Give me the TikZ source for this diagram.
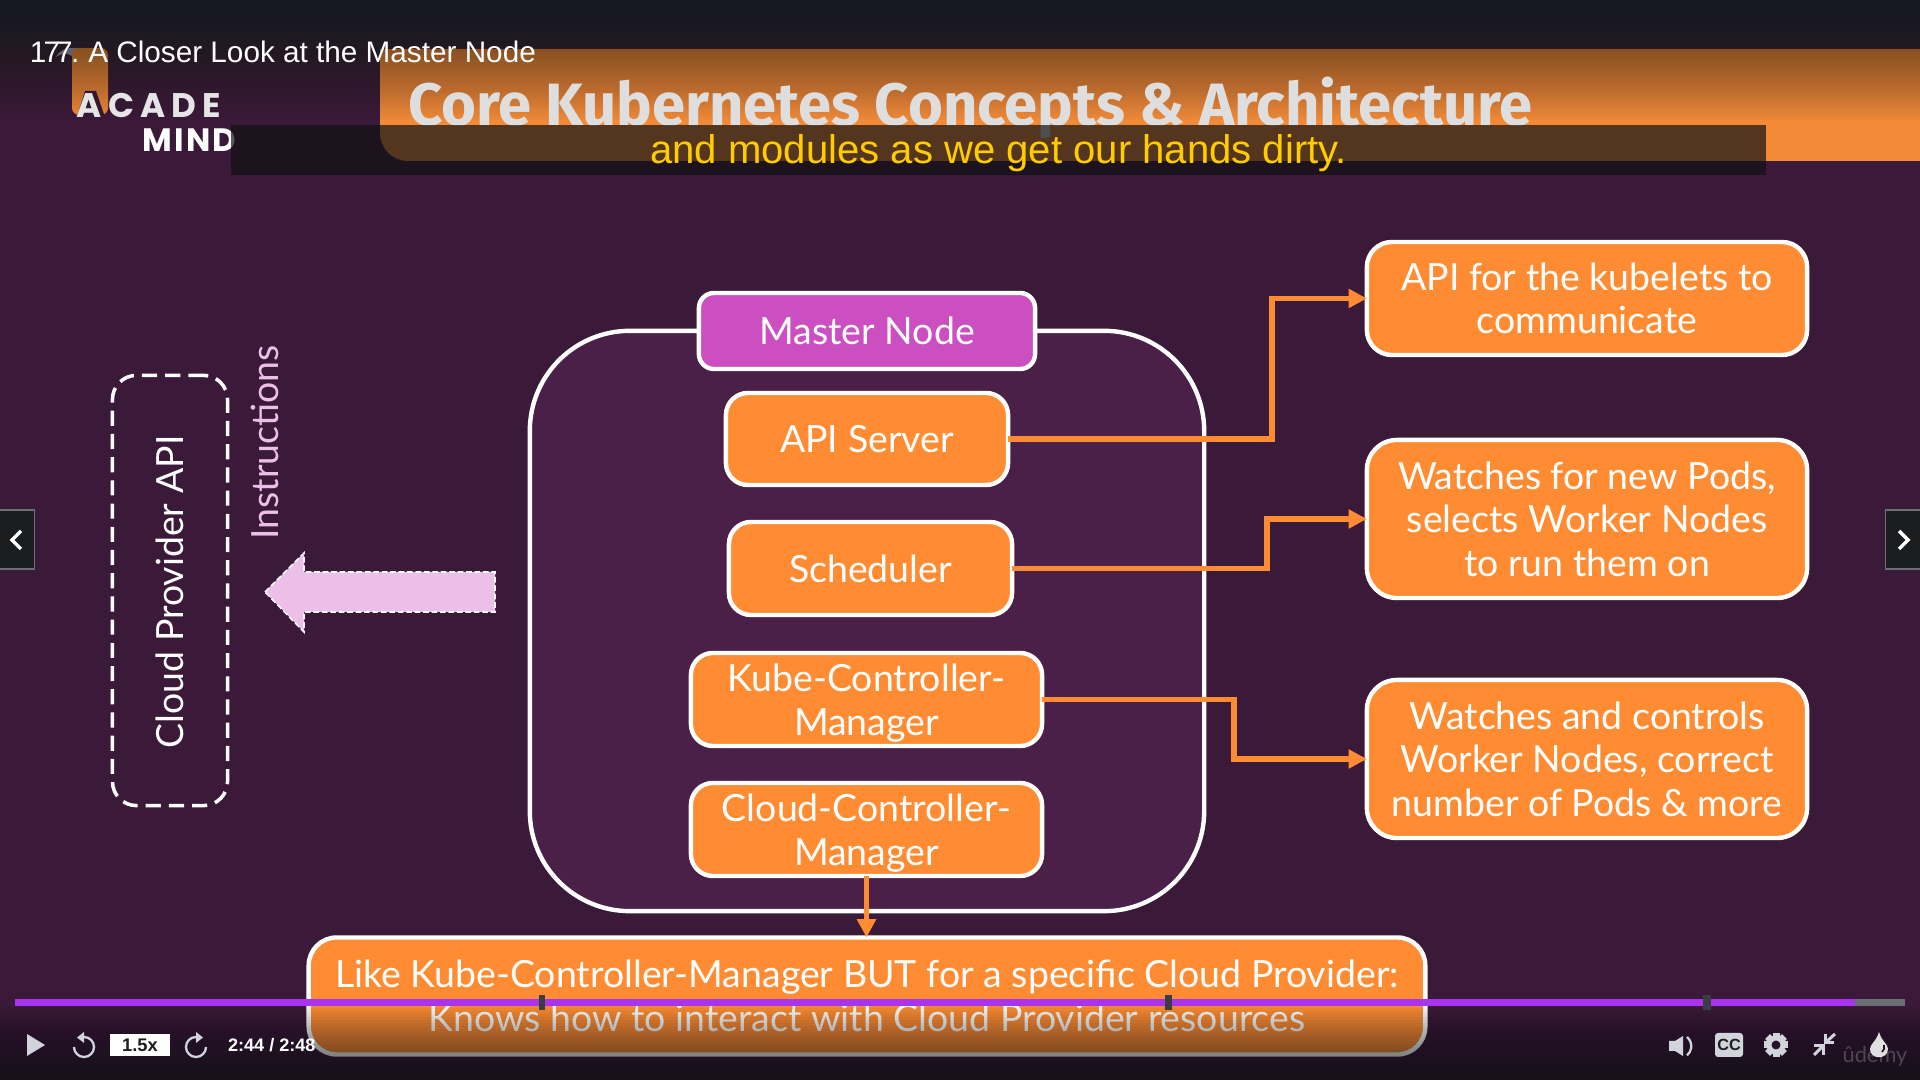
\documentclass[tikz,border=0pt]{standalone}
\usepackage{fontspec}
\usetikzlibrary{arrows.meta,shapes.geometric}
\setmainfont{Lato}
\newfontfamily\titlefont{Fira Sans}
\newfontfamily\playerfont{Liberation Sans}
\newfontfamily\logofontA[LetterSpace=18]{Poppins}
\newfontfamily\logofontB[LetterSpace=6]{Poppins}
\definecolor{bgpurple}{HTML}{3A1A38}
\definecolor{boxpurple}{HTML}{4A2049}
\definecolor{korange}{HTML}{FF8C33}
\definecolor{kbanner}{HTML}{F28A38}
\definecolor{kmagenta}{HTML}{CC4FC2}
\definecolor{kpink}{HTML}{ECBFE9}
\definecolor{shadetop}{HTML}{161822}
\definecolor{shadebot}{HTML}{0C1014}
\definecolor{bandcol}{HTML}{111113}
\definecolor{subyellow}{HTML}{FFCC00}
\definecolor{barpurple}{HTML}{A933EE}
\definecolor{bargrey}{HTML}{6B6F73}
\definecolor{markcol}{HTML}{3A3D42}
\definecolor{icon}{HTML}{D1D5DB}
\definecolor{navfill}{HTML}{1C1D1F}
\definecolor{navline}{HTML}{6A6F73}
\definecolor{darktext}{HTML}{1C1D1F}
\definecolor{titlecol}{HTML}{DEDEDE}
\tikzset{
  bodytext/.style={text=white,font=\fontsize{10.65pt}{12.4pt}\selectfont,align=center,inner sep=0pt,outer sep=0pt},
  obox/.style={bodytext,draw=white,line width=1.25pt,fill=korange,rounded corners=0.22cm},
  conn/.style={draw=korange,line width=1.55pt,-{Triangle[length=5.2pt,width=5.2pt]}},
  plain/.style={inner sep=0pt,outer sep=0pt},
  marker/.style={fill=markcol},
  nav/.style={fill=navfill,draw=navline,line width=0.3pt},
  chevron/.style={draw=white,line width=1pt},
  ring/.style={draw=icon,line width=0.65pt},
}
\newcommand{\topstrut}{\rule{0pt}{10pt}}
\begin{document}
\begin{tikzpicture}[x=0.01cm,y=-0.01cm]
\useasboundingbox (0,0) rectangle (1920,1080);
\fill[bgpurple] (0,0) rectangle (1920,1080);
% banner
\fill[kbanner,rounded corners=0.28cm] (380,49) -- (1950,49) -- (1950,161) -- (380,161) -- cycle;
\fill[kbanner] (380,49) rectangle (420,90);
% logo
\fill[gray!70] (56,57) .. controls (60,50) and (66,48) .. (72,48) -- (80,48) -- (80,56) -- (72,56) .. controls (66,52) and (60,54) .. (56,57) -- cycle;
\fill[kbanner,rounded corners=0.07cm] (72,115) -- (72,48) -- (108,48) -- (108,115) -- cycle;
\fill[bgpurple] (76,120) -- (85,91) -- (96,91) -- (106,120) -- cycle;
% master node container
\node[draw=white,line width=1.25pt,fill=boxpurple,rounded corners=1cm,minimum width=6.74cm,minimum height=5.8cm,plain] (main) at (867,621) {};
\node[obox,fill=kmagenta,rounded corners=0.15cm,minimum width=3.36cm,minimum height=0.76cm] (master) at (867,331) {Master Node};
\node[obox,minimum width=2.82cm,minimum height=0.92cm] (api) at (867,439) {API Server};
\node[obox,minimum width=2.83cm,minimum height=0.93cm] (sched) at (870.5,568.5) {Scheduler};
\node[obox,minimum width=3.51cm,minimum height=0.93cm] (kcm) at (866.5,699.5) {\topstrut Kube-Controller-\\Manager};
\node[obox,minimum width=3.51cm,minimum height=0.93cm] (ccm) at (866.5,829.5) {\topstrut Cloud-Controller-\\Manager};
% right boxes
\node[obox,rounded corners=0.25cm,minimum width=4.4cm,minimum height=1.13cm] (r1) at (1587,298.5) {API for the kubelets to\\communicate};
\node[obox,rounded corners=0.3cm,minimum width=4.4cm,minimum height=1.58cm] (r2) at (1587,519) {Watches for new Pods,\\selects Worker Nodes\\to run them on};
\node[obox,rounded corners=0.3cm,minimum width=4.4cm,minimum height=1.58cm] (r3) at (1587,759) {Watches and controls\\Worker Nodes, correct\\number of Pods \& more};
% bottom box
\node[obox,rounded corners=0.28cm,minimum width=11.16cm,minimum height=1.17cm] (bot) at (867,996) {Like Kube-Controller-Manager BUT for a specific Cloud Provider:\\Knows how to interact with Cloud Provider resources};
% connectors
\coordinate (c1) at (1272,439);
\coordinate (c2) at (1267,568.5);
\coordinate (c3) at (1234,699.5);
\draw[conn] (api.east) -- (c1) |- (r1.west);
\draw[conn] (sched.east) -- (c2) |- (r2.west);
\draw[conn] (kcm.east) -- (c3) |- (r3.west);
\draw[conn] (ccm.south) -- (bot.north -| ccm.south);
% cloud provider
\node[draw=white,line width=1pt,dash pattern=on 4.3pt off 2.3pt,rounded corners=0.24cm,minimum width=1.15cm,minimum height=4.3cm,plain] (cloud) at (170,590.5) {};
\node[bodytext,rotate=90] (cloudtext) at (170,592) {Cloud Provider API};
\node[bodytext,rotate=90,text=kpink] (instr) at (265,442.5) {Instructions};
% instructions arrow
\draw[fill=kpink,draw=white,line width=0.45pt,dash pattern=on 1.6pt off 0.8pt]
  (265,592) -- (304,553) -- (304,572) -- (495,572) -- (495,612) -- (304,612) -- (304,632) -- cycle;
% fades (nested translucent layers build a smooth vertical gradient)
\foreach \k in {1,...,40}{\fill[shadetop,opacity=0.025] (0,0) rectangle (1920,3*\k);}
\foreach \k in {1,...,25}{\fill[shadebot,opacity=0.04] (0,1080) rectangle (1920,1080-3*\k);}
% title and logo lettering
\node[plain,anchor=base west,text=titlecol] (title) at (408,126)
  {\titlefont\bfseries\fontsize{17pt}{20pt}\selectfont Core Kubernetes Concepts \& Architecture};
\node[plain,anchor=base west,text=white!90!black] (acade) at (77,118)
  {\logofontA\bfseries\fontsize{9.7pt}{10pt}\selectfont ACADE};
\node[plain,anchor=base west,text=white] (mind) at (143,152)
  {\logofontB\bfseries\fontsize{9.2pt}{10pt}\selectfont MIND};
% caption band
\fill[bandcol,opacity=0.7] (231,125) rectangle (1766,175);
\node[plain,text=subyellow] (sub) at (998.5,153.5)
  {\playerfont\fontsize{11.4pt}{13pt}\selectfont and modules as we get our hands dirty.};
\node[plain,anchor=base west,text=white] (lecture) at (30,63)
  {\playerfont\fontsize{8.45pt}{10pt}\selectfont 1\kern-0.8pt7\kern-1.2pt7\kern-0.4pt.\kern-0.6pt{} A Closer Look at the Master Node};
% progress bar
\fill[barpurple] (15,999) rectangle (1855,1006);
\fill[bargrey] (1855,999) rectangle (1905,1006);
\fill[marker] (539,995) rectangle (545,1010);
\fill[marker] (1165,995) rectangle (1172,1010);
\fill[marker] (1703,995) rectangle (1711,1010);
% player controls
\fill[icon] (27,1034) -- (45,1045) -- (27,1056) -- cycle;
\draw[ring] (84,1037) arc[start angle=-90,end angle=180,radius=10];
\fill[icon] (84,1032) -- (84,1043) -- (77,1037.5) -- cycle;
\fill[white] (110,1034) rectangle (170,1056);
\node[plain,text=darktext] (speed) at (140,1045) {\playerfont\bfseries\fontsize{5.2pt}{6pt}\selectfont 1.5x};
\draw[ring] (196,1037) arc[start angle=-90,end angle=-360,radius=10];
\fill[icon] (196,1032) -- (196,1043) -- (203,1037.5) -- cycle;
\node[plain,anchor=west,text=white] (time) at (228,1045) {\playerfont\bfseries\fontsize{5.15pt}{6pt}\selectfont 2:44 / 2:48};
% right controls
\fill[icon] (1669,1041) -- (1675,1041) -- (1683,1036) -- (1683,1056) -- (1675,1051) -- (1669,1051) -- cycle;
\draw[ring] (1687,1037) arc[start angle=-50,end angle=50,radius=12];
\fill[icon,rounded corners=0.03cm] (1715,1033) rectangle (1743,1057);
\node[plain,text=darktext] (cc) at (1729,1045) {\playerfont\bfseries\fontsize{4.6pt}{5pt}\selectfont CC};
\foreach \a in {0,45,...,135}{\fill[icon,rotate around={\a:(1776,1045)}] (1772.5,1033) rectangle (1779.5,1057);}
\fill[icon] (1776,1045) circle[radius=9.5];
\fill[bgpurple!70!black] (1776,1045) circle[radius=4.5];
\draw[icon,line width=0.85pt] (1825,1034) -- (1825,1043) -- (1834,1043);
\draw[icon,line width=0.85pt] (1825,1043) -- (1835,1034);
\draw[icon,line width=0.85pt] (1814,1046) -- (1823,1046) -- (1823,1055);
\draw[icon,line width=0.85pt] (1823,1046) -- (1814,1055);
\node[plain,text=white,opacity=0.22] (udemy) at (1875,1056) {\fontsize{6.2pt}{8pt}\selectfont ûdemy};
\fill[white!88!black] (1879,1032) .. controls (1876,1042) and (1870,1044) .. (1870,1049) .. controls (1870,1060) and (1888,1060) .. (1888,1049) .. controls (1888,1044) and (1882,1042) .. (1879,1032) -- cycle;
\draw[bgpurple!70!black,line width=0.5pt] (1884,1045) .. controls (1885,1048) and (1884,1050) .. (1882,1052);
% side navigation
\draw[nav] (-2,510) rectangle (34.5,569);
\draw[chevron] (21,531) -- (12,540) -- (21,549);
\draw[nav] (1885.5,510) rectangle (1922,569);
\draw[chevron] (1899,531) -- (1908,540) -- (1899,549);
\end{tikzpicture}
\end{document}
